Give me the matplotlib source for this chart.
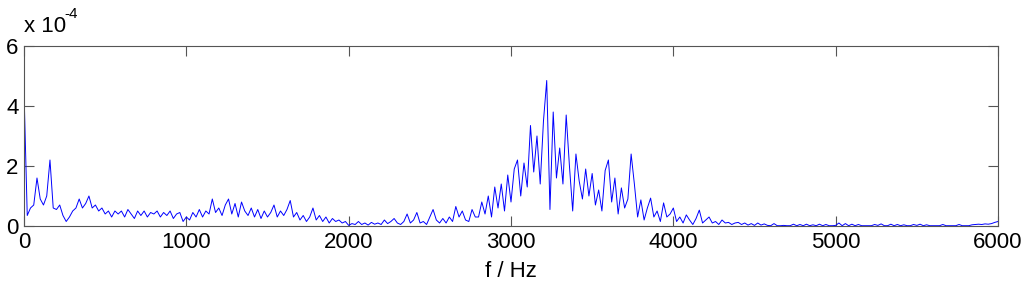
import numpy as np
import matplotlib
matplotlib.use('Agg')
import matplotlib.pyplot as plt

plt.rcParams['font.family'] = ['Liberation Sans', 'DejaVu Sans']

# frequency axis, 20 Hz step, 0..6000 Hz
freq_step = 20
# amplitude, in units of 1e-4 (one row = 200 Hz)
amp = [
    4.5, 0.35, 0.6, 0.7, 1.6, 0.9, 0.7, 1.0, 2.2, 0.6,        # 0
    0.55, 0.7, 0.35, 0.15, 0.3, 0.5, 0.6, 0.9, 0.6, 0.75,     # 200
    1.0, 0.6, 0.7, 0.5, 0.6, 0.4, 0.5, 0.3, 0.5, 0.4,         # 400
    0.5, 0.3, 0.55, 0.4, 0.25, 0.5, 0.35, 0.5, 0.3, 0.45,     # 600
    0.4, 0.5, 0.3, 0.45, 0.35, 0.5, 0.25, 0.4, 0.45, 0.15,    # 800
    0.3, 0.2, 0.45, 0.3, 0.55, 0.3, 0.5, 0.4, 0.9, 0.45,      # 1000
    0.6, 0.35, 0.7, 0.9, 0.4, 0.75, 0.3, 0.8, 0.5, 0.35,      # 1200
    0.6, 0.3, 0.55, 0.25, 0.5, 0.3, 0.45, 0.7, 0.3, 0.5,      # 1400
    0.35, 0.55, 0.85, 0.3, 0.45, 0.2, 0.35, 0.15, 0.3, 0.6,   # 1600
    0.2, 0.35, 0.15, 0.3, 0.1, 0.25, 0.15, 0.2, 0.1, 0.15,    # 1800
    0.02, 0.08, 0.05, 0.15, 0.05, 0.1, 0.03, 0.12, 0.06, 0.1, # 2000
    0.05, 0.2, 0.08, 0.15, 0.25, 0.1, 0.05, 0.15, 0.4, 0.1,   # 2200
    0.2, 0.45, 0.1, 0.15, 0.05, 0.3, 0.55, 0.2, 0.1, 0.25,    # 2400
    0.1, 0.3, 0.15, 0.65, 0.3, 0.5, 0.2, 0.15, 0.55, 0.3,     # 2600
    0.3, 0.8, 0.4, 1.0, 0.3, 1.3, 0.6, 1.4, 0.5, 1.7,         # 2800
    0.8, 1.9, 2.2, 1.0, 2.1, 1.3, 3.35, 1.8, 3.0, 1.4,        # 3000
    3.5, 4.85, 0.55, 3.8, 1.6, 2.6, 1.4, 3.7, 2.0, 0.5,       # 3200
    2.4, 1.5, 0.9, 1.9, 1.0, 1.75, 0.7, 1.2, 0.5, 1.85,       # 3400
    2.2, 0.8, 1.6, 0.4, 1.27, 0.6, 0.9, 2.4, 1.4, 0.3,        # 3600
    0.87, 0.2, 0.6, 0.93, 0.3, 0.5, 0.15, 0.77, 0.3, 0.4,     # 3800
    0.6, 0.15, 0.3, 0.1, 0.37, 0.2, 0.05, 0.25, 0.53, 0.1,    # 4000
    0.2, 0.3, 0.1, 0.15, 0.05, 0.2, 0.1, 0.12, 0.05, 0.1,     # 4200
    0.12, 0.05, 0.1, 0.03, 0.08, 0.02, 0.1, 0.03, 0.07, 0.02, # 4400
    0.01, 0.08, 0.01, 0.01, 0.02, 0.01, 0.01, 0.06, 0.01, 0.05, # 4600
    0.01, 0.06, 0.01, 0.04, 0.01, 0.06, 0.01, 0.05, 0.01, 0.01, # 4800
    0.02, 0.1, 0.01, 0.08, 0.01, 0.06, 0.01, 0.05, 0.01, 0.01,  # 5000
    0.01, 0.01, 0.05, 0.02, 0.07, 0.01, 0.01, 0.06, 0.01, 0.05, # 5200
    0.01, 0.04, 0.01, 0.01, 0.05, 0.02, 0.06, 0.01, 0.04, 0.01, # 5400
    0.01, 0.01, 0.01, 0.05, 0.01, 0.01, 0.01, 0.01, 0.05, 0.01, # 5600
    0.01, 0.01, 0.04, 0.05, 0.06, 0.05, 0.07, 0.06, 0.08, 0.12, # 5800
    0.15,                                                      # 6000
]
xticks = [0, 1000, 2000, 3000, 4000, 5000, 6000]
yticks = [0, 2, 4, 6]

freq = np.arange(len(amp)) * freq_step
amp = np.array(amp)

fig = plt.figure(figsize=(10.24, 2.93), dpi=100)
ax = fig.add_axes([24 / 1024, 67 / 293, 974 / 1024, 180 / 293])
ax.plot(freq, amp, color='blue', linewidth=0.7)

ax.set_xlim(0, 6000)
ax.set_ylim(0, 6)
ax.set_xticks(xticks)
ax.set_yticks(yticks)
ax.set_yticklabels([str(t) for t in yticks])
ax.tick_params(direction='in', length=7, width=0.8, color='#555555',
               top=True, right=True, labelsize=16)
ax.tick_params(axis='y', pad=4)
ax.tick_params(axis='x', pad=4)
for s in ax.spines.values():
    s.set_color('#555555')
    s.set_linewidth(0.8)

ax.set_xlabel('f / Hz', fontsize=16, labelpad=6)
# MATLAB style exponent label above the y axis
fig.text(24 / 1024, (293 - 32) / 293, 'x 10', fontsize=16,
         ha='left', va='baseline')
fig.text(64 / 1024, (293 - 18) / 293, '-4', fontsize=11,
         ha='left', va='baseline')

fig.savefig('out.png', dpi=100)
